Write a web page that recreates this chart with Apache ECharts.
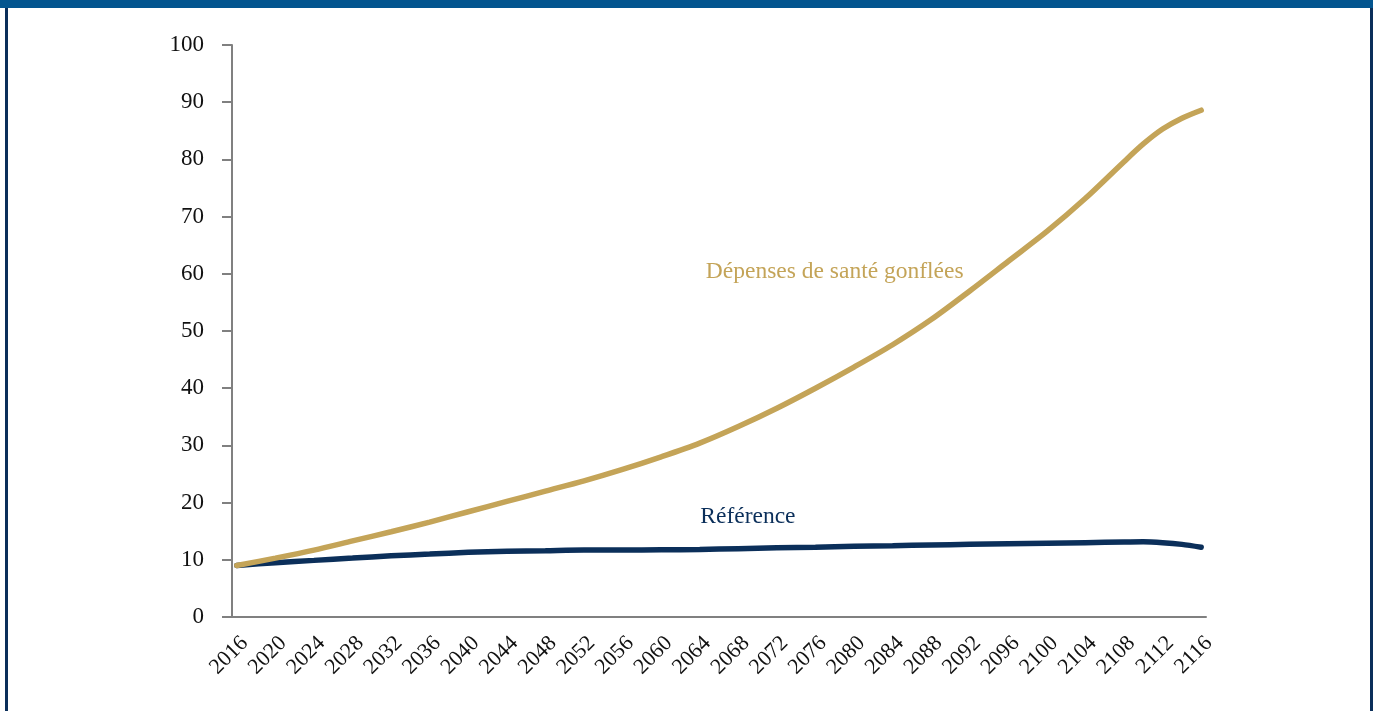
<!DOCTYPE html>
<html>
<head>
<meta charset="utf-8">
<script src="https://cdn.jsdelivr.net/npm/echarts@6/dist/echarts.min.js"></script>
<style>
  html, body { margin: 0; padding: 0; background: #fff; }
  #frame {
    position: absolute; left: 0; top: 0; width: 1373px; height: 711px;
    box-sizing: border-box; overflow: hidden;
  }
  #topbar { position: absolute; left: 0; top: 0; width: 1373px; height: 8px; background: #03558f; }
  #lside { position: absolute; left: 5px; top: 8px; width: 3px; height: 703px; background: #0b2f5a; }
  #rside { position: absolute; left: 1370px; top: 8px; width: 3px; height: 703px; background: #0b2f5a; }
  #chart { position: absolute; left: 0; top: 0; width: 1373px; height: 711px; }
</style>
</head>
<body>
<div id="frame">
  <div id="chart"></div>
  <div id="topbar"></div>
  <div id="lside"></div>
  <div id="rside"></div>
</div>
<script>
// Projection horizon: one category per year, a label every 4 years
const firstYear = 2016;
const lastYear = 2116;
const labelStep = 4;

// Sampled years and values (share of GDP, %)
const years = [2016, 2020, 2024, 2028, 2032, 2036, 2040, 2044, 2048, 2052, 2056, 2060, 2064,
  2068, 2072, 2076, 2080, 2084, 2088, 2092, 2096, 2100, 2104, 2108, 2110, 2112, 2114, 2116];
const inflatedHealth = [9.0, 10.3, 11.7, 13.3, 14.9, 16.6, 18.4, 20.2, 22.0, 23.8, 25.8, 28.0, 30.4,
  33.3, 36.5, 40.0, 43.7, 47.6, 52.0, 57.0, 62.2, 67.4, 73.2, 79.6, 82.7, 85.3, 87.2, 88.6];
const reference = [9.0, 9.5, 9.9, 10.3, 10.7, 11.0, 11.3, 11.5, 11.6, 11.7, 11.7, 11.75, 11.8,
  11.95, 12.1, 12.2, 12.35, 12.45, 12.6, 12.7, 12.8, 12.9, 13.0, 13.1, 13.15, 13.0, 12.7, 12.2];
const seriesNames = ['Dépenses de santé gonflées', 'Référence'];

const GOLD = '#c4a458';
const NAVY = '#0b2f5a';
const FONT = '"Liberation Serif", "DejaVu Serif", serif';

const categories = [];
for (let y = firstYear; y <= lastYear; y++) categories.push(String(y));
const toPairs = vals => years.map((y, i) => [String(y), vals[i]]);

const chart = echarts.init(document.getElementById('chart'), null, { renderer: 'canvas' });
chart.setOption({
  animation: false,
  backgroundColor: '#fff',
  grid: { left: 232, right: 167, top: 45, bottom: 94, containLabel: false },
  xAxis: {
    type: 'category', data: categories, boundaryGap: true,
    axisLine: { show: true, lineStyle: { color: '#808080', width: 2 } },
    axisTick: { show: false },
    splitLine: { show: false },
    axisLabel: {
      interval: labelStep - 1, rotate: 45, margin: 15, color: '#111',
      fontFamily: FONT, fontSize: 22, verticalAlign: 'top', padding: [0, 0, 0, 0]
    }
  },
  yAxis: {
    type: 'value', min: 0, max: 100, interval: 10,
    axisLine: { show: true, lineStyle: { color: '#808080', width: 2 } },
    axisTick: { show: true, inside: false, length: 10, lineStyle: { color: '#808080', width: 2 } },
    splitLine: { show: false },
    axisLabel: { margin: 28, color: '#111', fontFamily: FONT, fontSize: 23 }
  },
  series: [
    {
      name: seriesNames[0], type: 'line', data: toPairs(inflatedHealth),
      smooth: 0.3, showSymbol: false, z: 3,
      lineStyle: { color: GOLD, width: 5.5, cap: 'round' },
      markPoint: {
        symbol: 'circle', symbolSize: 0, silent: true,
        data: [{ coord: ['2078', 60.3], value: seriesNames[0] }],
        label: { show: true, position: 'inside', formatter: seriesNames[0],
          color: GOLD, fontFamily: FONT, fontSize: 23.5 }
      }
    },
    {
      name: seriesNames[1], type: 'line', data: toPairs(reference),
      smooth: 0.3, showSymbol: false, z: 2,
      lineStyle: { color: NAVY, width: 5.5, cap: 'round' },
      markPoint: {
        symbol: 'circle', symbolSize: 0, silent: true,
        data: [{ coord: ['2069', 17.5], value: seriesNames[1] }],
        label: { show: true, position: 'inside', formatter: seriesNames[1],
          color: NAVY, fontFamily: FONT, fontSize: 23.5 }
      }
    }
  ]
});
</script>
</body>
</html>
